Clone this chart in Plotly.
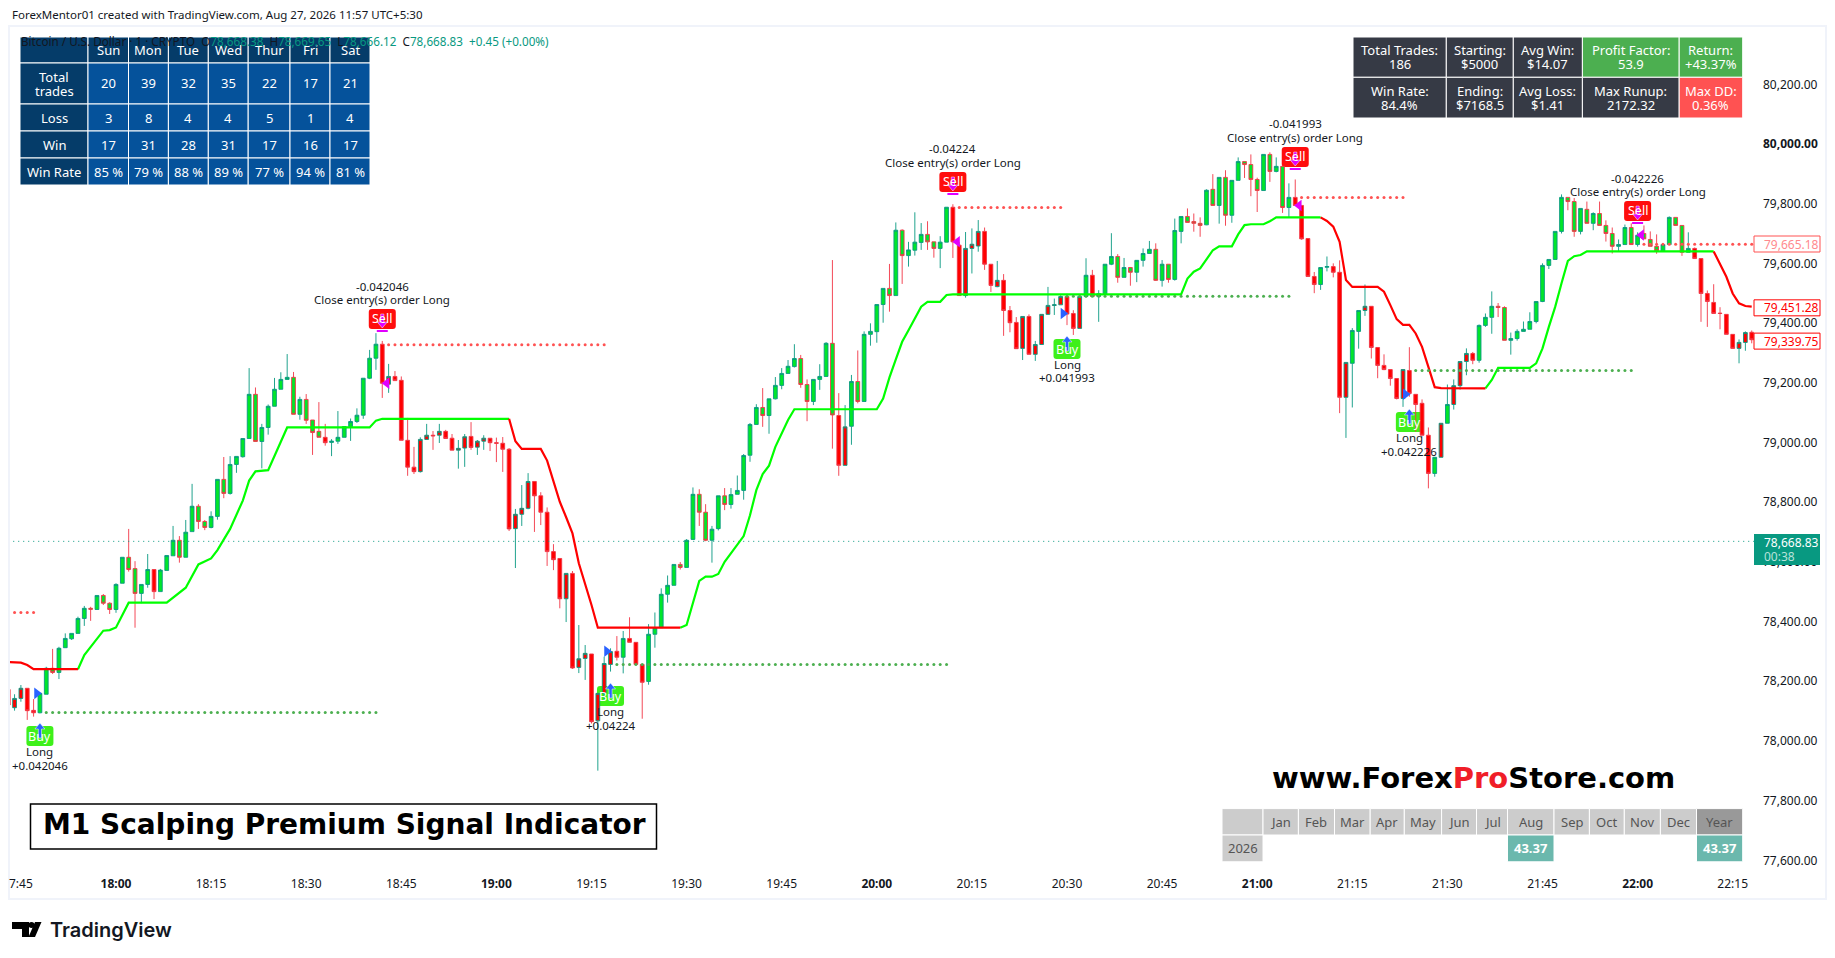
import numpy as np
import plotly.graph_objects as go

W, H = 1835, 958

# one-minute bars, minute 0 is 18:00
first_minute = -17
bar_open = [78168,78107,78138,78172,78098,78090,78152,78239,78225,78308,78338,78356,78406,78440,78436,78483,78457,
    78436,78524,78611,78573,78490,78520,78570,78496,78567,78616,78668,78611,78697,78782,78731,78711,78748,78872,78825,
    78922,78948,79009,79157,78999,79046,79117,79174,79207,79214,79090,79140,
    79071,79033,79013,78996,79000,79013,79049,79066,79087,79211,79278,79325,79191,79217,79204,79003,78913,78898,79006,
    79020,79020,79033,79010,78970,78977,79016,78980,79000,79010,78995,78993,78973,78707,78755,78775,78865,78817,78762,
    78630,78607,78472,78557,78242,78272,78287,78063,78155,78252,78296,78276,78339,78326,78252,78195,78353,78375,78487,
    78517,78587,78577,78671,78822,78762,78668,78707,78817,78788,78822,78835,78953,79056,79113,79086,79142,79187,79227,
    79250,79277,79190,79133,79207,79217,79328,79086,78919,79050,79200,79133,79358,79367,79458,79512,79488,79707,79622,
    79640,79666,79693,79668,79646,79667,79784,79657,79488,79646,79654,79703,79593,79518,79539,79438,79398,79311,79418,
    79291,79324,79425,79455,79457,79485,79428,79378,79485,79556,79485,79494,79593,79619,79549,79582,79566,79606,79629,
    79643,79539,79593,79542,79703,79753,79736,79730,79725,79844,79790,79884,79757,79874,79937,79927,79877,79840,79961,
    79904,79921,79783,79817,79790,79679,79552,79525,79583,79585,79566,79147,79261,79368,79438,79452,79314,79254,79240,
    79210,79143,79237,79157,79127,79020,78892,78946,79060,79123,79186,79267,79294,79271,79388,79415,79452,79448,79338,
    79344,79368,79375,79401,79468,79589,79609,79703,79817,79803,79703,79777,79730,79763,79723,79696,79653,79659,79716,
    79659,79696,79676,79653,79638,79659,79750,79723,79633,79646,79612,79495,79465,79429,79425,79358,79311,79331,79365]
bar_high = [78177,78152,78183,78172,78136,78155,78244,78304,78311,78356,78356,78412,78448,78445,78483,78488,78460,
    78524,78611,78706,78598,78520,78622,78570,78572,78617,78716,78682,78736,78857,78789,78736,78765,78872,78947,78950,
    78949,79009,79245,79180,79058,79123,79212,79231,79292,79232,79149,79158,
    79071,79131,79058,79007,79101,79049,79076,79110,79211,79306,79362,79336,79259,79235,79217,79078,78981,79013,79058,
    79034,79058,79038,79024,79004,79024,79064,79004,79020,79010,79012,79014,78977,78773,78853,78893,78865,78829,78778,
    78655,78607,78557,78565,78384,78317,78287,78155,78278,78306,78347,78364,78410,78326,78252,78387,78426,78507,78550,
    78587,78595,78672,78845,78839,78789,78716,78817,78843,78843,78885,78957,79061,79124,79178,79142,79215,79245,79272,
    79325,79289,79207,79207,79258,79332,79607,79161,79121,79222,79304,79368,79395,79458,79512,79594,79733,79710,79668,
    79767,79731,79737,79668,79687,79784,79794,79668,79701,79713,79741,79716,79593,79604,79560,79453,79416,79418,79425,
    79336,79425,79517,79478,79489,79494,79439,79485,79613,79574,79506,79593,79697,79627,79614,79582,79606,79646,79671,
    79663,79607,79593,79746,79753,79780,79763,79750,79844,79895,79884,79908,79874,79951,79937,79961,79883,79961,79968,
    79951,79921,79864,79877,79790,79679,79567,79582,79619,79596,79606,79264,79379,79438,79525,79452,79314,79291,79240,
    79210,79240,79315,79157,79140,79046,78946,79060,79190,79207,79267,79311,79299,79391,79428,79502,79463,79452,79364,
    79375,79401,79432,79468,79596,79609,79703,79827,79817,79815,79780,79803,79767,79803,79740,79716,79676,79726,79730,
    79700,79723,79703,79693,79659,79753,79750,79723,79700,79649,79612,79505,79526,79449,79425,79358,79341,79368,79371]
bar_low = [78110,78097,78127,78066,78077,78088,78152,78220,78203,78308,78334,78356,78381,78398,78436,78451,78421,
    78425,78524,78563,78375,78457,78509,78471,78496,78567,78616,78593,78611,78697,78706,78702,78708,78737,78809,78821,
    78894,78945,79009,78999,78909,79022,79117,79174,79207,79090,79072,79058,
    78954,79013,78985,78950,78991,79013,79001,79061,79075,79208,79239,79145,79162,79203,79003,78884,78890,78895,79006,
    78971,78994,79009,78970,78908,78914,78971,78954,78971,78967,78930,78897,78699,78575,78716,78772,78696,78719,78582,
    78568,78440,78394,78237,78223,78200,78054,77896,78133,78228,78265,78222,78326,78250,78070,78184,78308,78375,78459,
    78517,78570,78577,78669,78716,78665,78593,78701,78769,78774,78822,78804,78931,79056,79048,79025,79140,79174,79227,
    79247,79179,79067,79121,79172,79217,78975,78884,78919,78988,79127,79133,79320,79330,79397,79434,79488,79527,79585,
    79622,79641,79641,79615,79580,79667,79614,79488,79481,79562,79635,79574,79500,79516,79353,79365,79310,79272,79291,
    79269,79324,79423,79423,79457,79389,79356,79378,79482,79485,79400,79489,79590,79531,79549,79521,79533,79585,79629,
    79537,79518,79531,79538,79663,79733,79702,79685,79724,79790,79729,79722,79732,79874,79882,79821,79768,79840,79869,
    79901,79765,79751,79790,79675,79552,79496,79507,79569,79549,79094,79011,79113,79310,79420,79277,79211,79238,79186,
    79140,79115,79149,79032,79020,78842,78881,78946,79060,79106,79173,79221,79258,79263,79383,79360,79416,79338,79290,
    79337,79368,79375,79395,79466,79577,79609,79696,79774,79685,79693,79730,79707,79723,79669,79629,79636,79659,79659,
    79652,79678,79653,79628,79636,79659,79723,79621,79633,79612,79400,79383,79428,79375,79358,79311,79261,79303,79328]
bar_close = [78116,78138,78172,78097,78090,78155,78239,78225,78306,78339,78356,78406,78440,78437,78483,78457,78436,
    78520,78611,78570,78490,78520,78570,78496,78568,78617,78668,78611,78695,78782,78731,78711,78748,78872,78825,78922,
    78949,79009,79157,78999,79046,79117,79174,79207,79214,79090,79140,79070,
    79029,79013,78995,79000,79013,79049,79066,79087,79211,79278,79325,79194,79217,79203,79003,78913,78898,79006,79020,
    79018,79033,79009,78970,78976,79015,78979,79000,79010,78995,78993,78973,78706,78755,78775,78865,78817,78762,78630,
    78603,78472,78557,78240,78271,78289,78060,78155,78255,78295,78276,78339,78326,78252,78192,78353,78375,78487,78517,
    78587,78577,78668,78822,78762,78668,78705,78817,78788,78821,78835,78952,79056,79113,79086,79142,79187,79227,79251,
    79277,79190,79133,79207,79217,79328,79088,78919,79048,79200,79133,79358,79368,79458,79512,79488,79707,79622,79641,
    79667,79693,79668,79646,79667,79784,79668,79488,79646,79660,79703,79593,79522,79539,79438,79397,79310,79418,79291,
    79324,79425,79455,79457,79485,79426,79378,79485,79556,79485,79494,79593,79619,79549,79582,79566,79606,79629,79643,
    79539,79593,79542,79706,79753,79733,79730,79723,79841,79790,79884,79757,79874,79937,79927,79877,79840,79961,79904,
    79921,79783,79817,79790,79678,79552,79525,79582,79585,79566,79147,79264,79371,79438,79452,79314,79254,79240,79210,
    79143,79240,79160,79123,79020,78892,78946,79060,79123,79186,79267,79294,79271,79388,79415,79452,79448,79338,79344,
    79368,79375,79401,79468,79589,79609,79703,79817,79803,79703,79780,79730,79763,79723,79696,79653,79659,79716,79659,
    79690,79678,79653,79638,79659,79750,79723,79633,79646,79612,79495,79468,79428,79428,79358,79311,79331,79364,79340]

# bars the strategy painted red, all others are lime
red_bars = [-17, -16, -15, -14, -13, 6, 33] + list(range(42, 80)) + [81, 82, 83, 114, 115] \
    + list(range(132, 153)) + [154, 155, 186, 187, 188, 189, 192, 193, 194] \
    + list(range(197, 208)) + [209, 211, 212, 213, 214] + list(range(249, 259))

# trailing stop line
stop_minute = [-17,-15,-14,-13,-6,-5,-2,-1,0,2,8,11,13,15,16,17,18,20,21,22,24,27,40,41,42,62,
    63,64,67,68,69,70,71,72,73,74,75,76,89,90,92,93,94,95,96,97,98,99,100,101,102,103,104,105,106,107,120,121,122,
    123,124,125,126,127,128,130,131,132,168,169,170,171,172,173,174,176,177,178,179,181,182,183,190,
    191,192,193,194,195,199,200,201,202,203,204,205,206,207,208,209,216,217,218,223,224,225,226,227,228,229,230,231,232,252,
    253,254,255,256,257,258]
stop_price = [78260,78258,78250,78236,78236,78283,78365,78367,78376,78459,78459,78509,78587,78607,78635,78673,78706,
    78801,78868,78899,78903,79046,79046,79069,79075,79075,79000,78974,78974,78935,78864,78797,78745,78691,78591,78524,
    78451,78375,78375,78384,78532,78546,78546,78555,78596,78624,78652,78682,78752,78836,78890,78918,78981,79026,79071,
    79107,79107,79143,79214,79274,79333,79372,79411,79451,79467,79467,79490,79492,79492,79545,79568,79579,79609,79640,
    79653,79653,79693,79724,79727,79727,79737,79750,79750,79738,79719,79668,79540,79517,79517,79501,79456,79409,79390,
    79390,79361,79316,79249,79181,79178,79177,79205,79246,79246,79261,79311,79383,79450,79529,79604,79620,79624,79636,
    79636,79596,79551,79495,79462,79453,79451]
stop_red_spans = [(-17, -6), (62, 89), (190, 216), (252, 258)]
stop_green_spans = [(-6, 62), (89, 190), (216, 252)]

# dotted stop/entry levels
red_level_price = [78426, 79323, 79783, 79817, 79660]
red_level_start = [-16, 43, 133, 187, 241]
red_level_end = [-13, 77, 149, 203, 258]
green_level_price = [78091, 78252, 79486, 79237]
green_level_start = [-11, 79, 150, 205]
green_level_end = [41, 131, 185, 239]

# small triangles beside the trade bars
close_tri_minute = [42.7, 132.7, 186.6, 240.6]
close_tri_price = [79194, 79668, 79790, 79691]
entry_tri_minute = [-12.5, 77.4, 149.4, 203.4]
entry_tri_price = [78155, 78296, 79428, 79157]

# the readings above came out a little low against the price scale
READ_OFFSET = 4.4

last_price = 78668.83

price_ticks = list(range(77600, 80400, 200))
time_tick_minutes = [-15, 0, 15, 30, 45, 60, 75, 90, 105, 120, 135, 150, 165, 180, 195, 210, 225, 240, 255]
time_tick_labels = ["7:45", "<b>18:00</b>", "18:15", "18:30", "18:45", "<b>19:00</b>", "19:15", "19:30", "19:45",
    "<b>20:00</b>", "20:15", "20:30", "20:45", "<b>21:00</b>", "21:15", "21:30", "21:45", "<b>22:00</b>", "22:15"]

weekdays = ["Sun", "Mon", "Tue", "Wed", "Thur", "Fri", "Sat"]
week_rows = ["Total<br>trades", "Loss", "Win", "Win Rate"]
week_total = [20, 39, 32, 35, 22, 17, 21]
week_loss = [3, 8, 4, 4, 5, 1, 4]
week_win = [17, 31, 28, 31, 17, 16, 17]
week_rate = ["85 %", "79 %", "88 %", "89 %", "77 %", "94 %", "81 %"]

stats_top = ["Total Trades:<br>186", "Starting:<br>$5000", "Avg Win:<br>$14.07", "Profit Factor:<br>53.9", "Return:<br>+43.37%"]
stats_bottom = ["Win Rate:<br>84.4%", "Ending:<br>$7168.5", "Avg Loss:<br>$1.41", "Max Runup:<br>2172.32", "Max DD:<br>0.36%"]

months = ["Jan", "Feb", "Mar", "Apr", "May", "Jun", "Jul", "Aug", "Sep", "Oct", "Nov", "Dec"]
month_returns = {"Aug": "43.37"}
year_return = "43.37"

sell_minutes = [42, 132, 186, 240]
sell_pnl = ["-0.042046", "-0.04224", "-0.041993", "-0.042226"]
buy_minutes = [-12, 78, 150, 204]
buy_pnl = ["+0.042046", "+0.04224", "+0.041993", "+0.042226"]

FONT = "Noto Sans"
UP = "#089981"
DOWN = "#F23645"
LIME = "#00E62A"
RED = "#FF0000"
PANE_LEFT, PANE_RIGHT, PANE_TOP, PANE_BOTTOM = 10, 1754, 26, 870


def px(x):
    return x / W


def py(y):
    return 1 - y / H


def mx(minute):
    # pixel column of a minute, used only for the overlay labels
    return PANE_LEFT + (minute + 16.72) * (PANE_RIGHT - PANE_LEFT) / 275.08


shapes = []
notes = []


def box(x0, x1, y0, y1, fill, line="rgba(0,0,0,0)", lw=0, layer="above"):
    shapes.append(dict(type="rect", xref="paper", yref="paper", x0=px(x0), x1=px(x1), y0=py(y1), y1=py(y0),
                       fillcolor=fill, line=dict(color=line, width=lw), layer=layer))


def text(x, y, s, color="#131722", size=12, anchor="center", family=FONT, weight=None):
    f = dict(family=family, size=size, color=color)
    if weight:
        f["weight"] = weight
    notes.append(dict(xref="paper", yref="paper", x=px(x), y=py(y), text=s, showarrow=False, xanchor=anchor,
                      yanchor="middle", font=f, align="center"))


def cell(x0, x1, y0, y1, fill, s, color="white", size=13):
    box(x0, x1, y0, y1, fill, "white", 1)
    if s:
        # tight two line cells, annotation line spacing is too loose
        lines = s.split("<br>")
        mid = (y0 + y1) / 2
        for i, line in enumerate(lines):
            text((x0 + x1) / 2, mid + (i - (len(lines) - 1) / 2) * 14, line, color, size)


def round_box(x0, x1, y0, y1, fill):
    r = 3
    path = (f"M{px(x0 + r)},{py(y0)} L{px(x1 - r)},{py(y0)} Q{px(x1)},{py(y0)} {px(x1)},{py(y0 + r)} "
            f"L{px(x1)},{py(y1 - r)} Q{px(x1)},{py(y1)} {px(x1 - r)},{py(y1)} L{px(x0 + r)},{py(y1)} "
            f"Q{px(x0)},{py(y1)} {px(x0)},{py(y1 - r)} L{px(x0)},{py(y0 + r)} Q{px(x0)},{py(y0)} {px(x0 + r)},{py(y0)} Z")
    shapes.append(dict(type="path", xref="paper", yref="paper", path=path, fillcolor=fill, line=dict(width=0), layer="below"))


def arrow(x, head_y, tail_y, color):
    d = 1 if tail_y > head_y else -1
    neck = head_y + d * 6
    pts = [(x, head_y), (x + 5, neck), (x + 1.6, neck), (x + 1.6, tail_y), (x - 1.6, tail_y), (x - 1.6, neck), (x - 5, neck)]
    path = "M" + " L".join(f"{px(a)},{py(b)}" for a, b in pts) + " Z"
    shapes.append(dict(type="path", xref="paper", yref="paper", path=path, fillcolor=color,
                       line=dict(color="white", width=0.5)))


minutes = np.arange(first_minute, first_minute + len(bar_open))
is_red = np.isin(minutes, red_bars)
o, h, l, c = (np.array(a) + READ_OFFSET for a in (bar_open, bar_high, bar_low, bar_close))

fig = go.Figure()

# current price line sits under the bars
fig.add_trace(go.Scatter(x=[minutes[0], minutes[-1] + 1], y=[last_price, last_price], mode="lines",
                         line=dict(color=UP, width=1, dash="1px 4px"), hoverinfo="skip"))

for mask, fill in ((~is_red, LIME), (is_red, RED)):
    fig.add_trace(go.Candlestick(x=minutes[mask], open=o[mask], high=h[mask], low=l[mask], close=c[mask],
                                 increasing=dict(line=dict(color=UP, width=0.9), fillcolor=fill),
                                 decreasing=dict(line=dict(color=DOWN, width=0.9), fillcolor=fill),
                                 whiskerwidth=0, hoverinfo="skip"))

stop_x = np.array(stop_minute)
stop_y = np.array(stop_price) + READ_OFFSET
for spans, color in ((stop_green_spans, "#00FF00"), (stop_red_spans, RED)):
    for a, b in spans:
        keep = (stop_x >= a) & (stop_x <= b)
        fig.add_trace(go.Scatter(x=stop_x[keep], y=stop_y[keep], mode="lines", line=dict(color=color, width=2.2),
                                 hoverinfo="skip"))

for prices, starts, ends, color in ((red_level_price, red_level_start, red_level_end, "#FF5252"),
                                    (green_level_price, green_level_start, green_level_end, "#4CAF50")):
    for p, a, b in zip(prices, starts, ends):
        xs = list(range(a, b + 1))
        fig.add_trace(go.Scatter(x=xs, y=[p + READ_OFFSET] * len(xs), mode="markers", marker=dict(color=color, size=3),
                                 hoverinfo="skip"))

fig.add_trace(go.Scatter(x=close_tri_minute, y=np.array(close_tri_price) + READ_OFFSET, mode="markers",
                         marker=dict(symbol="triangle-left", color="#E000FF", size=10), hoverinfo="skip"))
fig.add_trace(go.Scatter(x=entry_tri_minute, y=np.array(entry_tri_price) + READ_OFFSET, mode="markers",
                         marker=dict(symbol="triangle-right", color="#2962FF", size=10), hoverinfo="skip"))

# frame of the chart
shapes.append(dict(type="rect", xref="paper", yref="paper", x0=px(9), x1=px(1826), y0=py(899), y1=py(26),
                   line=dict(color="#F0F3FA", width=2), layer="below"))

# sell / buy tags
sell_box_top = [309, 172, 147, 201]
for m, pnl, top in zip(sell_minutes, sell_pnl, sell_box_top):
    x = mx(m)
    round_box(x - 13.5, x + 13.5, top, top + 20, "#FF0D0D")
    text(x, top - 23, pnl, size=11.5)
    text(x, top - 9, "Close entry(s) order Long", size=11.5)
    text(x, top + 9, "Sell", "white", 12.5)
    arrow(x, top + 19, top + 5, "#E000FF")
    shapes.append(dict(type="line", xref="paper", yref="paper", x0=px(x - 5.5), x1=px(x + 5.5), y0=py(top + 22),
                       y1=py(top + 22), line=dict(color="#E000FF", width=2)))

buy_box_top = [726, 686, 339, 412]
for m, pnl, top in zip(buy_minutes, buy_pnl, buy_box_top):
    x = mx(m)
    round_box(x - 13.5, x + 13.5, top, top + 20, "#3EF01A")
    text(x, top + 10, "Buy", "white", 12.5)
    text(x, top + 25, "Long", size=11.5)
    text(x, top + 39, pnl, size=11.5)
    arrow(x, top - 3, top + 12, "#2962FF")

# price tags on the scale
tags = [(79665.18, "#FF8A8E", "#FF5252"), (79451.28, RED, RED), (79339.75, RED, RED)]
for p, color, border in tags:
    yy = 84.4 + (80200 - p) / 3.351
    box(1754, 1820, yy - 8, yy + 8, "white", border, 1)
    text(1762, yy, f"{p:,.2f}", color, 12, "left")
box(1754, 1820, 534, 565, "#089981")
text(1762, 542, f"{last_price:,.2f}", "white", 12, "left")
text(1762, 556, "00:38", "#B8E2DA", 12, "left")

# legend line and header
text(10, 15, "ForexMentor01 created with TradingView.com, Aug 27, 2026 11:57 UTC+5:30", size=11.5, anchor="left")

# weekday table
cols = [20, 88, 128.5, 168.4, 208.3, 248.2, 290, 330, 370]
rows = [37, 63, 104, 131, 158, 185]
NAVY = "#053C69"
BLUE = "#05529B"
cell(cols[0], cols[1], rows[0], rows[1], NAVY, "")
for i, name in enumerate(weekdays):
    box(cols[i + 1], cols[i + 2], rows[0], rows[1], NAVY, "white", 1)
    text((cols[i + 1] + cols[i + 2]) / 2, 49.5, name, "white", 13)
for r, (name, vals) in enumerate(zip(week_rows, (week_total, week_loss, week_win, week_rate))):
    cell(cols[0], cols[1], rows[r + 1], rows[r + 2], NAVY, name)
    for i, v in enumerate(vals):
        cell(cols[i + 1], cols[i + 2], rows[r + 1], rows[r + 2], BLUE, str(v))

# ohlc legend drawn over the table head
val = f'<span style="color:{UP}">%s</span>'
legend = ("Bitcoin / U.S. Dollar · 1 · CRYPTO  O" + val % "78,668.38" + "  H" + val % "78,669.65" + "  L" + val % "78,666.12"
          + "  C" + val % "78,668.83" + "  " + val % "+0.45 (+0.00%)")
text(18.5, 41.5, legend, size=11.7, anchor="left")

# stats table
stat_cols = [1353, 1446.3, 1513.3, 1582.4, 1679.2, 1742.7]
stat_rows = [37, 77.3, 118]
top_fills = ["#363A45", "#363A45", "#363A45", "#4CAF50", "#4CAF50"]
bottom_fills = ["#363A45", "#363A45", "#363A45", "#363A45", "#FF5252"]
for i in range(5):
    cell(stat_cols[i], stat_cols[i + 1], stat_rows[0], stat_rows[1], top_fills[i], stats_top[i])
    cell(stat_cols[i], stat_cols[i + 1], stat_rows[1], stat_rows[2], bottom_fills[i], stats_bottom[i])

# monthly returns table
month_cols = [1222, 1263, 1298.4, 1334.5, 1370.2, 1404.3, 1441.6, 1476.5, 1507.5, 1554, 1589.4, 1624.3, 1660.4, 1696.5, 1742.7]
month_rows = [808.6, 835, 861.8]
GREY = "#CCCCCC"
cell(month_cols[0], month_cols[1], month_rows[0], month_rows[1], GREY, "")
cell(month_cols[0], month_cols[1], month_rows[1], month_rows[2], GREY, "2026", "#555555")
for i, name in enumerate(months):
    cell(month_cols[i + 1], month_cols[i + 2], month_rows[0], month_rows[1], GREY, name, "#555555")
    if name in month_returns:
        cell(month_cols[i + 1], month_cols[i + 2], month_rows[1], month_rows[2], "#6BB8AD", f"<b>{month_returns[name]}</b>")
cell(month_cols[13], month_cols[14], month_rows[0], month_rows[1], "#999999", "Year", "#555555")
cell(month_cols[13], month_cols[14], month_rows[1], month_rows[2], "#6BB8AD", f"<b>{year_return}</b>")

# promo text
box(30.5, 656.5, 804, 849, "white", "black", 1.5)
text(41, 824, "<b>M1 Scalping Premium Signal Indicator</b>", "black", 28, "left", "DejaVu Sans")
text(1473, 778, '<b>www.Forex<span style="color:#F01E28">Pro</span>Store.com</b>', "black", 29, "center", "DejaVu Sans")

# TradingView logo and name
box(12, 29, 922, 929, "black")
box(22, 29, 929, 937, "black")
shapes.append(dict(type="circle", xref="paper", yref="paper", x0=px(28.5), x1=px(34.5), y0=py(928), y1=py(922),
                   fillcolor="black", line=dict(width=0)))
shapes.append(dict(type="path", xref="paper", yref="paper", fillcolor="black", line=dict(width=0),
                   path=f"M{px(35)},{py(922)} L{px(41.5)},{py(922)} L{px(35)},{py(937)} L{px(28.5)},{py(937)} Z"))
text(47.5, 930, "TradingView", "#131722", 20, "left", "Inter", 600)

fig.update_layout(
    width=W, height=H, margin=dict(l=0, r=0, t=0, b=0), paper_bgcolor="white", plot_bgcolor="white",
    showlegend=False, boxgap=0.15, boxmode="overlay", shapes=shapes, annotations=notes,
    font=dict(family=FONT, size=12, color="#131722"),
    xaxis=dict(domain=[px(PANE_LEFT), px(PANE_RIGHT)], range=[-16.72, 258.36], showgrid=False, zeroline=False,
               rangeslider=dict(visible=False), tickmode="array", tickvals=time_tick_minutes, ticktext=time_tick_labels,
               ticks="", showline=False, ticklabelstandoff=5, tickfont=dict(size=12)),
    yaxis=dict(domain=[py(PANE_BOTTOM), py(PANE_TOP)], range=[77563.1 + READ_OFFSET, 80391.3 + READ_OFFSET], side="right",
               showgrid=False, zeroline=False, tickmode="array", tickvals=price_ticks,
               ticktext=[f"<b>{p:,.2f}</b>" if p == 80000 else f"{p:,.2f}" for p in price_ticks],
               ticks="", showline=False, ticklabelstandoff=8, tickfont=dict(size=12)),
)

fig.write_html("out.html", config=dict(displayModeBar=False), post_script="document.body.style.margin='0';")
